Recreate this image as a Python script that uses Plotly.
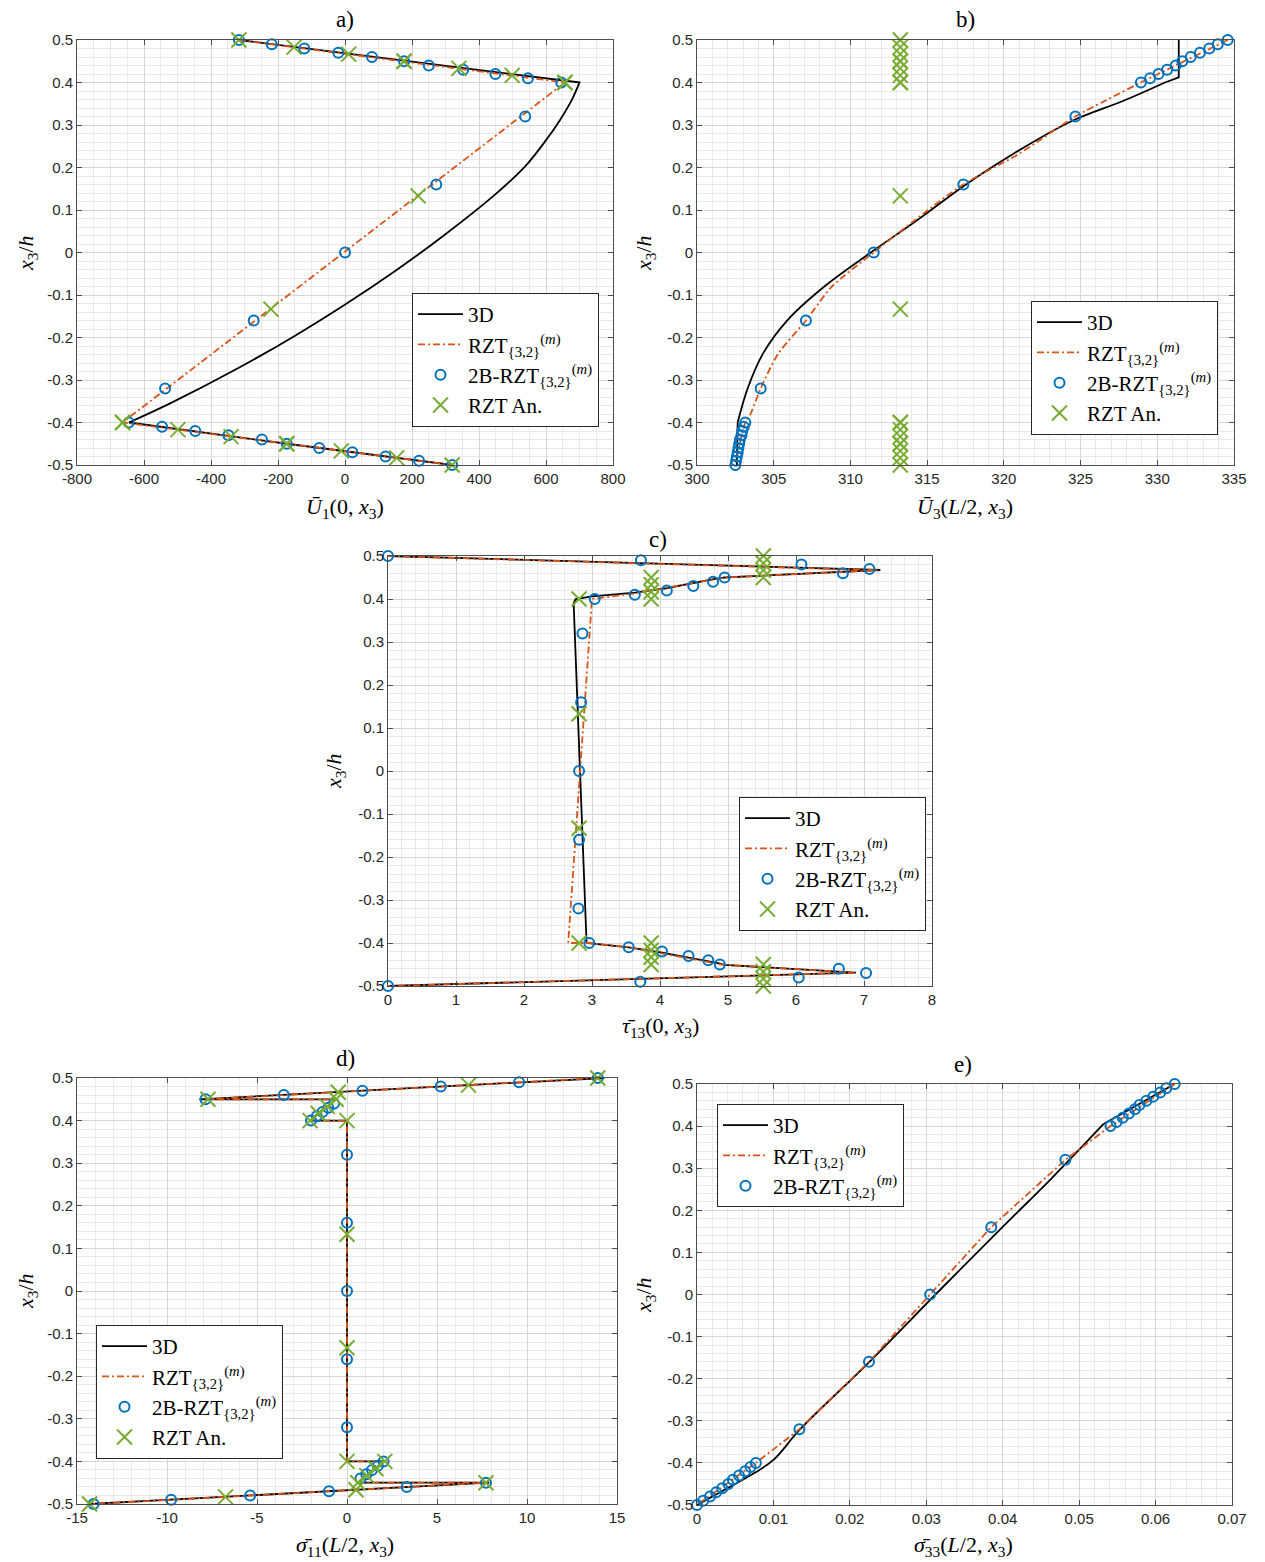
import plotly.graph_objects as go

# ---------------- data ----------------
Y_2B = [0.50, 0.49, 0.48, 0.47, 0.46, 0.45, 0.44, 0.43, 0.42, 0.41, 0.40,
        0.32, 0.16, 0.0, -0.16, -0.32,
        -0.40, -0.41, -0.42, -0.43, -0.44, -0.45, -0.46, -0.47, -0.48, -0.49, -0.50]
Y_AN = [0.5, 0.4833, 0.4667, 0.45, 0.45, 0.4333, 0.4167, 0.4,
        0.4, 0.1333, -0.1333, -0.4,
        -0.4, -0.4167, -0.4333, -0.45, -0.45, -0.4667, -0.4833, -0.5]

# panel a : U1(0,x3)  (3D split: top face / core curve / bottom face)
a_3d_top_y = [0.5, 0.45, 0.4]
a_3d_top_x = [-316, 190, 701]
a_3d_core_y = [0.402, 0.359, 0.312, 0.261, 0.202, 0.139, 0.037, -0.041, -0.12, -0.198, -0.276, -0.355, -0.4]
a_3d_core_x = [701, 677, 642, 597, 537, 452, 290, 154, 5, -154, -328, -522, -645]
a_3d_bot_y = [-0.4, -0.45, -0.5]
a_3d_bot_x = [-645, -174, 320]
a_rzt_y = [0.5, 0.45, 0.4, -0.4, -0.45, -0.5]
a_rzt_x = [-316.7, 176.5, 656.5, -664, -174, 320]
a_2b_x = [-316.7, -218.5, -121.4, -20, 80.5, 176.5, 250, 353, 449, 546, 645.5,
          538, 272.5, 0, -272.5, -537,
          -645.5, -546, -447, -348, -248, -174, -77, 22, 121, 221, 320]
a_an_x = [-316.7, -152, 11, 176.5, 176.5, 340, 499, 656.5,
          656.5, 218.5, -221, -664,
          -664, -498.8, -340, -174, -174, -11, 154.5, 320]

# panel b : U3(L/2,x3)
b_3d_top_y = [0.5, 0.412, 0.4]
b_3d_top_x = [331.4, 331.4, 330.5]
b_3d_core_y = [0.4, 0.357, 0.31, 0.232, 0.162, 0.076, 0.0, -0.08, -0.159, -0.238, -0.32, -0.4]
b_3d_core_x = [330.5, 327.8, 324.47, 320.6, 317.6, 314.34, 311.33, 308.3, 305.9, 304.3, 303.3, 302.65]
b_3d_bot_y = [-0.4, -0.5]
b_3d_bot_x = [302.65, 302.6]
b_rzt_y = [0.5, 0.4, 0.357, 0.32, 0.232, 0.16, 0.076, 0.0, -0.08, -0.16, -0.238, -0.32, -0.379, -0.4, -0.5]
b_rzt_x = [334.59, 328.93, 326.6, 324.66, 320.97, 317.36, 314.2, 311.52, 308.8, 307.1, 305.3, 304.15, 303.5, 303.15, 302.5]
b_2b_x = [334.59, 333.94, 333.39, 332.78, 332.18, 331.63, 331.2, 330.64, 330.08, 329.53, 328.93,
          324.66, 317.36, 311.52, 307.1, 304.15,
          303.15, 303.05, 302.95, 302.9, 302.8, 302.75, 302.7, 302.65, 302.6, 302.55, 302.5]
b_an_x = [313.25] * 20

# panel c : tau13(0,x3)
c_3d_y = [0.5, 0.4674, 0.45, 0.446, 0.425, 0.415, 0.406, 0.40, 0.39, -0.40, -0.41, -0.4225, -0.447, -0.451, -0.469, -0.5]
c_3d_x = [0, 7.24, 4.95, 4.79, 4.09, 3.63, 3.0, 2.76, 2.73, 2.92, 3.54, 4.03, 4.85, 4.95, 6.88, 0]
c_rzt_y = [0.5, 0.467, 0.45, 0.413, 0.40, -0.40, -0.40, -0.41, -0.45, -0.469, -0.5]
c_rzt_x = [0, 7.2, 4.95, 3.63, 3.0, 2.65, 2.95, 3.54, 4.9, 6.86, 0]
c_2b_x = [0, 3.72, 6.08, 7.08, 6.69, 4.95, 4.78, 4.49, 4.10, 3.63, 3.04,
          2.86, 2.84, 2.81, 2.81, 2.80,
          2.96, 3.54, 4.03, 4.42, 4.71, 4.88, 6.63, 7.03, 6.04, 3.71, 0]
c_an_x = [5.52, 5.52, 5.52, 5.52, 3.87, 3.87, 3.87, 3.87,
          2.81, 2.81, 2.81, 2.81,
          3.87, 3.87, 3.87, 3.87, 5.52, 5.52, 5.52, 5.52]

# panel d : sigma11(L/2,x3)
d_3d_y = [0.5, 0.45, 0.45, 0.4, 0.4, -0.4, -0.4, -0.45, -0.45, -0.5]
d_3d_x = [14.3, -8.2, -0.6, -2.05, 0, 0, 2.05, 0.6, 7.9, -14.3]
d_rzt_y = [0.5, 0.45, 0.45, 0.4, 0.4, -0.4, -0.4, -0.45, -0.45, -0.5]
d_rzt_x = [13.93, -7.86, -0.6, -2.05, 0, 0, 2.05, 0.6, 7.72, -14.1]
d_2b_x = [13.93, 9.56, 5.21, 0.86, -3.51, -7.86, -0.72, -1.04, -1.36, -1.68, -2.0,
          0, 0, 0, 0, 0,
          2.03, 1.71, 1.39, 1.07, 0.75, 7.72, 3.32, -1.0, -5.38, -9.77, -14.08]
d_an_x = [13.93, 6.75, -0.49, -7.72, -0.6, -1.1, -1.6, -2.05,
          0, 0, 0, 0,
          2.1, 1.6, 1.1, 0.6, 7.72, 0.5, -6.75, -14.3]

# panel e : sigma33(L/2,x3)
e_3d_top_y = [0.5, 0.405]
e_3d_top_x = [0.0625, 0.0532]
e_3d_core_y = [0.405, 0.276, 0.159, 0.0, -0.161, -0.32, -0.393, -0.423, -0.46, -0.5]
e_3d_core_x = [0.0532, 0.0464, 0.0399, 0.0312, 0.0225, 0.0135, 0.0100, 0.0076, 0.0040, 0.0]
e_rzt_y = [0.5, 0.4, 0.32, 0.16, 0.0, -0.16, -0.32, -0.4, -0.5]
e_rzt_x = [0.0625, 0.0541, 0.0482, 0.0385, 0.0305, 0.0225, 0.0134, 0.0077, 0.0]
e_2b_x = [0.0625, 0.0614, 0.0606, 0.0597, 0.0588, 0.0579, 0.0573, 0.0565, 0.0557, 0.0549, 0.0541,
          0.0482, 0.0385, 0.0305, 0.0225, 0.0134,
          0.0077, 0.0070, 0.0063, 0.0055, 0.0047, 0.0041, 0.0033, 0.0025, 0.0017, 0.0008, 0.0]

# tick labels
Y_TICKS = [0.5, 0.4, 0.3, 0.2, 0.1, 0, -0.1, -0.2, -0.3, -0.4, -0.5]
Y_TICKTEXT = ["0.5", "0.4", "0.3", "0.2", "0.1", "0", "-0.1", "-0.2", "-0.3", "-0.4", "-0.5"]
A_TICKS = [-800, -600, -400, -200, 0, 200, 400, 600, 800]
A_TICKTEXT = ["-800", "-600", "-400", "-200", "0", "200", "400", "600", "800"]
B_TICKS = [300, 305, 310, 315, 320, 325, 330, 335]
B_TICKTEXT = ["300", "305", "310", "315", "320", "325", "330", "335"]
C_TICKS = [0, 1, 2, 3, 4, 5, 6, 7, 8]
C_TICKTEXT = ["0", "1", "2", "3", "4", "5", "6", "7", "8"]
D_TICKS = [-15, -10, -5, 0, 5, 10, 15]
D_TICKTEXT = ["-15", "-10", "-5", "0", "5", "10", "15"]
E_TICKS = [0, 0.01, 0.02, 0.03, 0.04, 0.05, 0.06, 0.07]
E_TICKTEXT = ["0", "0.01", "0.02", "0.03", "0.04", "0.05", "0.06", "0.07"]

LBL_3D = "3D"
LBL_RZT = "RZT<sub>{3,2}</sub><sup>(<i>m</i>)</sup>"
LBL_2B = "2B-RZT<sub>{3,2}</sub><sup>(<i>m</i>)</sup>"
LBL_AN = "RZT An."

# ---------------- layout helpers ----------------
W, H = 1265, 1562
BLACK = "#000000"
ORANGE = "#D95319"
BLUE = "#0072BD"
GREEN = "#77AC30"
SERIF = "Liberation Serif"
SANS = "Liberation Sans"
DASHDOT = "7px,3px,2px,3px"


def xd(l, r):
    return [l / W, r / W]


def yd(t, b):
    return [1 - b / H, 1 - t / H]


def px(x):
    return x / W


def py(y):
    return 1 - y / H


fig = go.Figure()


def line3d(xs, ys, xa, ya, leg, show, shape="linear"):
    fig.add_trace(go.Scatter(x=xs, y=ys, mode="lines", name=LBL_3D, legendgroup="3d" + leg,
                             showlegend=show, line=dict(color=BLACK, width=1.8, shape=shape,
                                                        smoothing=1.0),
                             xaxis=xa, yaxis=ya, legend=leg))


def linerzt(xs, ys, xa, ya, leg, shape="linear"):
    fig.add_trace(go.Scatter(x=xs, y=ys, mode="lines", name=LBL_RZT,
                             line=dict(color=ORANGE, width=1.8, dash=DASHDOT, shape=shape,
                                       smoothing=0.8),
                             xaxis=xa, yaxis=ya, legend=leg))


def marks(x2b, xan, xa, ya, leg):
    fig.add_trace(go.Scatter(x=x2b, y=Y_2B, mode="markers", name=LBL_2B,
                             marker=dict(symbol="circle-open", size=10, color=BLUE,
                                         line=dict(width=2, color=BLUE)),
                             cliponaxis=False, xaxis=xa, yaxis=ya, legend=leg))
    if xan is not None:
        fig.add_trace(go.Scatter(x=xan, y=Y_AN, mode="markers", name=LBL_AN,
                                 marker=dict(symbol="x-thin-open", size=15, color=GREEN,
                                             line=dict(width=2, color=GREEN)),
                                 cliponaxis=False, xaxis=xa, yaxis=ya, legend=leg))


# panel a
line3d(a_3d_top_x, a_3d_top_y, "x", "y", "legend", True)
line3d(a_3d_core_x, a_3d_core_y, "x", "y", "legend", False, "spline")
line3d(a_3d_bot_x, a_3d_bot_y, "x", "y", "legend", False)
linerzt(a_rzt_x, a_rzt_y, "x", "y", "legend")
marks(a_2b_x, a_an_x, "x", "y", "legend")
# panel b
line3d(b_3d_top_x, b_3d_top_y, "x2", "y2", "legend2", True)
line3d(b_3d_core_x, b_3d_core_y, "x2", "y2", "legend2", False, "spline")
line3d(b_3d_bot_x, b_3d_bot_y, "x2", "y2", "legend2", False)
linerzt(b_rzt_x, b_rzt_y, "x2", "y2", "legend2", "spline")
marks(b_2b_x, b_an_x, "x2", "y2", "legend2")
# panel c
line3d(c_3d_x, c_3d_y, "x3", "y3", "legend3", True)
linerzt(c_rzt_x, c_rzt_y, "x3", "y3", "legend3")
marks(c_2b_x, c_an_x, "x3", "y3", "legend3")
# panel d
line3d(d_3d_x, d_3d_y, "x4", "y4", "legend4", True)
linerzt(d_rzt_x, d_rzt_y, "x4", "y4", "legend4")
marks(d_2b_x, d_an_x, "x4", "y4", "legend4")
# panel e
line3d(e_3d_top_x, e_3d_top_y, "x5", "y5", "legend5", True)
line3d(e_3d_core_x, e_3d_core_y, "x5", "y5", "legend5", False, "spline")
linerzt(e_rzt_x, e_rzt_y, "x5", "y5", "legend5")
marks(e_2b_x, None, "x5", "y5", "legend5")

GRID_MAJ = "#d6d6d6"
GRID_MIN = "#e9e9e9"
AXLINE = "#4d4d4d"


def xaxis(dom, rng, tv, tt, minor, anchor):
    return dict(domain=dom, range=rng, anchor=anchor, tickmode="array", tickvals=tv, ticktext=tt,
                automargin=False,
                showgrid=True, gridcolor=GRID_MAJ, gridwidth=1, zeroline=False,
                showline=True, linecolor=AXLINE, linewidth=1, mirror="ticks",
                ticks="inside", ticklen=5, tickcolor=AXLINE,
                tickfont=dict(family=SANS, size=15, color="#262626"),
                minor=dict(tickmode="linear", tick0=rng[0], dtick=minor, showgrid=True,
                           gridcolor=GRID_MIN, gridwidth=1, ticks=""))


def yaxis(dom, anchor):
    return dict(domain=dom, range=[-0.5, 0.5], anchor=anchor, tickmode="array",
                tickvals=Y_TICKS, ticktext=Y_TICKTEXT, automargin=False,
                showgrid=True, gridcolor=GRID_MAJ, gridwidth=1, zeroline=False,
                showline=True, linecolor=AXLINE, linewidth=1, mirror="ticks",
                ticks="inside", ticklen=5, tickcolor=AXLINE,
                tickfont=dict(family=SANS, size=15, color="#262626"),
                minor=dict(tickmode="linear", tick0=-0.5, dtick=0.02, showgrid=True,
                           gridcolor=GRID_MIN, gridwidth=1, ticks=""))


layout = dict(
    width=W, height=H, margin=dict(l=0, r=0, t=0, b=0, autoexpand=False), autosize=False,
    paper_bgcolor="white", plot_bgcolor="white",
    xaxis=xaxis(xd(77, 613), [-800, 800], A_TICKS, A_TICKTEXT, 50, "y"),
    yaxis=yaxis(yd(40, 465), "x"),
    xaxis2=xaxis(xd(697, 1234), [300, 335], B_TICKS, B_TICKTEXT, 1, "y2"),
    yaxis2=yaxis(yd(40, 465), "x2"),
    xaxis3=xaxis(xd(388, 932), [0, 8], C_TICKS, C_TICKTEXT, 0.2, "y3"),
    yaxis3=yaxis(yd(556, 986), "x3"),
    xaxis4=xaxis(xd(77, 617), [-15, 15], D_TICKS, D_TICKTEXT, 1, "y4"),
    yaxis4=yaxis(yd(1078, 1504), "x4"),
    xaxis5=xaxis(xd(697, 1232), [0, 0.07], E_TICKS, E_TICKTEXT, 0.002, "y5"),
    yaxis5=yaxis(yd(1084, 1505), "x5"),
)

legend_pos = {"legend": (412, 293), "legend2": (1031, 301), "legend3": (739, 797),
              "legend4": (96, 1325), "legend5": (717, 1104)}
for k, (lx, ly) in legend_pos.items():
    layout[k] = dict(x=px(lx), y=py(ly), xanchor="left", yanchor="top",
                     bgcolor="white", bordercolor="#262626", borderwidth=1,
                     font=dict(family=SERIF, size=21, color="#000000"),
                     tracegroupgap=0, itemwidth=45)

fig.update_layout(**layout)

annots = []
titles = [("a)", 345, 20), ("b)", 965, 20), ("c)", 658, 540), ("d)", 345, 1058), ("e)", 963, 1064)]
for t, x, y in titles:
    annots.append(dict(text=t, x=px(x), y=py(y), xref="paper", yref="paper",
                       xanchor="center", yanchor="middle",
                       showarrow=False, font=dict(family=SERIF, size=23, color="#000")))

XL = [("<i>Ū</i><sub>1</sub>(0, <i>x</i><sub>3</sub>)", 345, 508),
      ("<i>Ū</i><sub>3</sub>(<i>L</i>/2, <i>x</i><sub>3</sub>)", 965, 508),
      ("<i>τ̄</i><sub>13</sub>(0, <i>x</i><sub>3</sub>)", 660, 1027),
      ("<i>σ̄</i><sub>11</sub>(<i>L</i>/2, <i>x</i><sub>3</sub>)", 345, 1546),
      ("<i>σ̄</i><sub>33</sub>(<i>L</i>/2, <i>x</i><sub>3</sub>)", 963, 1546)]
for t, x, y in XL:
    annots.append(dict(text=t, x=px(x), y=py(y), xref="paper", yref="paper",
                       xanchor="center", yanchor="middle",
                       showarrow=False, font=dict(family=SERIF, size=22, color="#000")))

YL = [(27, 253), (645, 253), (335, 771), (27, 1291), (645, 1295)]
for x, y in YL:
    annots.append(dict(text="<i>x</i><sub>3</sub>/<i>h</i>", x=px(x), y=py(y), xref="paper", yref="paper",
                       xanchor="center", yanchor="middle",
                       showarrow=False, textangle=-90, font=dict(family=SERIF, size=22, color="#000")))

fig.update_layout(annotations=annots)
fig.write_html("out.html", config={"displayModeBar": False},
               post_script="document.body.style.margin='0';document.body.style.overflow='hidden';"
                           "document.documentElement.style.overflow='hidden';")
